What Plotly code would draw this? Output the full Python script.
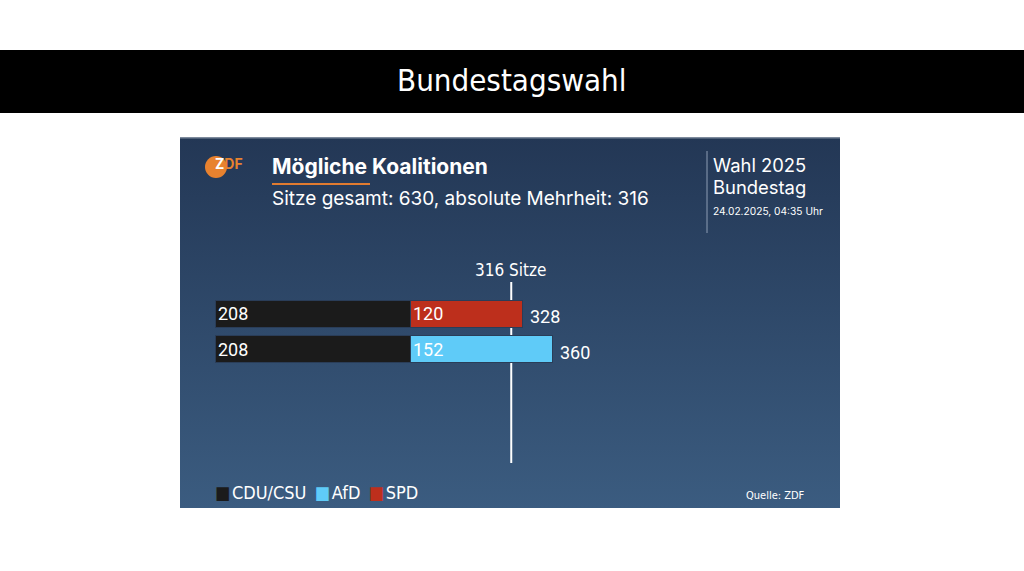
import base64
import plotly.graph_objects as go

W, H = 1024, 571

# data
coalitions = ["CDU/CSU + SPD", "CDU/CSU + AfD"]
cdu_seats = [208, 208]
spd_seats = [120]
afd_seats = [152]
totals = [cdu_seats[0] + spd_seats[0], cdu_seats[1] + afd_seats[0]]
majority = 316
seats_total = 630
parties = ["CDU/CSU", "AfD", "SPD"]
party_colors = {"CDU/CSU": "#1b1b1b", "AfD": "#5fcbf8", "SPD": "#bd2f1c"}

COND = "DejaVu Sans Condensed, sans-serif"
SANS = "Inter, Noto Sans, sans-serif"
NUM = "Roboto, sans-serif"
SEAT_PX = 0.9375  # px per seat
X0 = 215


def px(x):
    return x / W


def py(y):
    return 1 - y / H


# gradient panel as svg image
svg = ('<svg xmlns="http://www.w3.org/2000/svg" width="660" height="371">'
       '<defs><linearGradient id="g" x1="0" y1="0" x2="0" y2="1">'
       '<stop offset="0" stop-color="#233755"/><stop offset="1" stop-color="#3b5c80"/>'
       '</linearGradient></defs><rect width="660" height="371" fill="url(#g)"/>'
       '<rect width="660" height="1.5" fill="#7d8a9c"/></svg>')
panel = "data:image/svg+xml;base64," + base64.b64encode(svg.encode()).decode()

fig = go.Figure()

bar_font = dict(family=NUM, size=18, color="white")
outline = dict(color="#2a3d58", width=1)
fig.add_trace(go.Bar(
    name="CDU/CSU", y=coalitions, x=cdu_seats, orientation="h",
    marker=dict(color=party_colors["CDU/CSU"], line=outline),
    text=cdu_seats, textposition="inside", insidetextanchor="start",
    constraintext="none", textfont=bar_font, hoverinfo="skip"))
fig.add_trace(go.Bar(
    name="SPD", y=coalitions[:1], x=spd_seats, orientation="h",
    marker=dict(color=party_colors["SPD"], line=outline),
    text=spd_seats, textposition="inside", insidetextanchor="start",
    constraintext="none", textfont=bar_font, hoverinfo="skip"))
fig.add_trace(go.Bar(
    name="AfD", y=coalitions[1:], x=afd_seats, orientation="h",
    marker=dict(color=party_colors["AfD"], line=outline),
    text=afd_seats, textposition="inside", insidetextanchor="start",
    constraintext="none", textfont=bar_font, hoverinfo="skip"))

# totals to the right of each bar
for c, t in zip(coalitions, totals):
    fig.add_annotation(x=t, y=c, xref="x", yref="y", text=str(t), showarrow=False,
                       xanchor="left", yanchor="middle", xshift=5, yshift=-3,
                       font=bar_font)

fig.update_layout(
    width=W, height=H, margin=dict(l=0, r=0, t=0, b=0),
    paper_bgcolor="white", plot_bgcolor="rgba(0,0,0,0)",
    barmode="stack", bargap=0.227, showlegend=False,
    xaxis=dict(domain=[px(X0), 1], range=[0, (W - X0) / SEAT_PX],
               visible=False, fixedrange=True),
    yaxis=dict(domain=[py(366.7), py(296)], type="category",
               categoryorder="array", categoryarray=coalitions,
               range=[1.5, -0.5], visible=False, fixedrange=True),
    images=[dict(source=panel, xref="paper", yref="paper", x=px(180), y=py(137),
                 sizex=px(660), sizey=371 / H, sizing="stretch",
                 xanchor="left", yanchor="top", layer="below")],
)

shapes = [
    # banner
    dict(type="rect", xref="paper", yref="paper", x0=0, x1=1, y0=py(113), y1=py(50),
         fillcolor="black", line_width=0),
    # majority line
    dict(type="line", xref="x", yref="paper", x0=majority, x1=majority,
         y0=py(463), y1=py(282), line=dict(color="white", width=2), layer="below"),
    # orange underline
    dict(type="rect", xref="paper", yref="paper", x0=px(272), x1=px(370),
         y0=py(185), y1=py(183), fillcolor="#e07b30", line_width=0),
    # separator
    dict(type="line", xref="paper", yref="paper", x0=px(707), x1=px(707),
         y0=py(233), y1=py(151), line=dict(color="#8d9db4", width=1)),
    # zdf circle
    dict(type="circle", xref="paper", yref="paper", x0=px(205), x1=px(227),
         y0=py(178), y1=py(156), fillcolor="#e8822f", line_width=0),
]
fig.update_layout(shapes=shapes)


def note(text, x, y, size, family=SANS, color="white", xanchor="left", **kw):
    fig.add_annotation(text=text, x=px(x), y=py(y), xref="paper", yref="paper",
                       showarrow=False, xanchor=xanchor, yanchor="middle",
                       font=dict(family=family, size=size, color=color), **kw)


note("Bundestagswahl", 512, 80, 31, family=COND, xanchor="center")
note("<b><span style='color:#ffffff'>Z</span>DF</b>", 213, 164, 14, family=SANS, color="#e8822f")
note("<b>Mögliche Koalitionen</b>", 270, 167, 21)
note(f"Sitze gesamt: {seats_total}, absolute Mehrheit: {majority}", 270, 199, 19)
note("Wahl 2025", 711, 165, 18.4)
note("Bundestag", 711, 187, 18.4)
note("24.02.2025, 04:35 Uhr", 711, 211, 10.2)
note(f"{majority} Sitze", 510, 270, 17, family=COND, xanchor="center")
note("Quelle: ZDF", 807, 495, 11, family=COND, xanchor="right")

# legend row
legend_text = " &#8201;".join(
    f"<span style='color:{party_colors[p]}'>■</span>&#8202;{p}" for p in parties)
note(legend_text, 213, 492, 18, family=COND)

fig.write_html("out.html", config={"displayModeBar": False},
               post_script="document.body.style.margin='0';")
